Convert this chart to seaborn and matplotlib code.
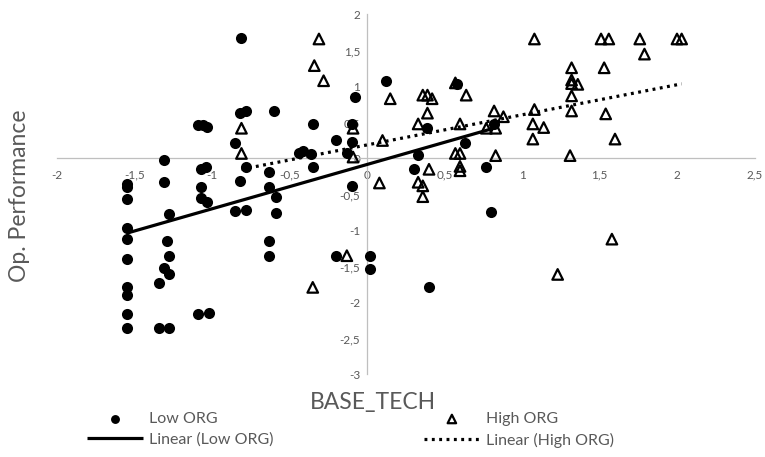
import numpy as np
import pandas as pd
import matplotlib
matplotlib.use("Agg")
import matplotlib.pyplot as plt
import seaborn as sns
from matplotlib.ticker import FuncFormatter

# ---------------- data ----------------
low_x = [-1.55, -1.55, -1.55, -1.55, -1.55, -1.55, -1.55, -1.55, -1.55, -1.55,
         -1.31, -1.31, -1.28, -1.29, -1.28, -1.31, -1.28, -1.34, -1.34, -1.28,
         -1.09, -1.06, -1.03, -1.07, -1.04, -1.07, -1.07, -1.03, -1.09, -1.02,
         -0.81, -0.82, -0.78, -0.85, -0.78, -0.82, -0.85, -0.78,
         -0.60, -0.63, -0.63, -0.59, -0.59, -0.63, -0.63,
         -0.44, -0.41, -0.36, -0.35, -0.35, -0.20, -0.20,
         -0.10, -0.10, -0.13, -0.08, -0.10, 0.02, 0.02, 0.12,
         0.30, 0.33, 0.39, 0.40, 0.58, 0.63, 0.77, 0.80, 0.82]
low_y = [-0.35, -0.40, -0.56, -0.96, -1.12, -1.39, -1.79, -1.90, -2.16, -2.36,
         -0.02, -0.33, -0.77, -1.14, -1.35, -1.52, -1.61, -1.73, -2.36, -2.36,
         0.46, 0.46, 0.44, -0.14, -0.12, -0.39, -0.55, -0.60, -2.16, -2.14,
         1.67, 0.63, 0.66, 0.21, -0.12, -0.31, -0.73, -0.72,
         0.66, -0.19, -0.39, -0.53, -0.76, -1.15, -1.35,
         0.07, 0.10, 0.06, 0.48, -0.12, 0.26, -1.35,
         0.48, 0.23, 0.07, 0.86, -0.38, -1.35, -1.53, 1.07,
         -0.15, 0.05, 0.43, -1.79, 1.03, 0.21, -0.12, -0.74, 0.48]

high_x = [-0.81, -0.81, -0.35, -0.34, -0.31, -0.28, -0.13, -0.09, -0.09,
          0.08, 0.10, 0.15, 0.33, 0.33, 0.36, 0.36, 0.36, 0.39, 0.42, 0.39, 0.40,
          0.57, 0.57, 0.60, 0.60, 0.60, 0.60, 0.64, 0.77, 0.83, 0.82, 0.88, 0.83,
          1.07, 1.07, 1.08, 1.08, 1.14, 1.23, 1.31, 1.32, 1.32, 1.32, 1.32, 1.32,
          1.36, 1.51, 1.53, 1.54, 1.56, 1.58, 1.60, 1.76, 1.79, 2.00, 2.03]
high_y = [0.42, 0.07, -1.79, 1.29, 1.66, 1.08, -1.35, 0.42, 0.02,
          -0.34, 0.25, 0.83, 0.48, -0.33, -0.38, -0.53, 0.88, 0.88, 0.83, 0.63, -0.15,
          1.05, 0.07, 0.07, 0.48, -0.11, -0.17, 0.88, 0.42, 0.42, 0.66, 0.58, 0.04,
          0.48, 0.27, 0.68, 1.66, 0.43, -1.61, 0.04, 0.66, 0.87, 1.04, 1.09, 1.26,
          1.03, 1.66, 1.26, 0.62, 1.66, -1.12, 0.27, 1.66, 1.45, 1.66, 1.66]

series_names = ["Low ORG", "High ORG"]
trend_names = ["Linear (Low ORG)", "Linear (High ORG)"]
x_ticks = [-2, -1.5, -1, -0.5, 0, 0.5, 1, 1.5, 2, 2.5]
y_ticks = [-3, -2.5, -2, -1.5, -1, -0.5, 0, 0.5, 1, 1.5, 2]
x_title = "BASE_TECH"
y_title = "Op. Performance"

# ---------------- style ----------------
sns.set_style("white")
plt.rcParams["font.family"] = ["Lato", "DejaVu Sans"]
GREY_TXT = "#595959"
GREY_AX = "#BFBFBF"

fig = plt.figure(figsize=(7.65, 4.57), dpi=100)
ax = fig.add_axes([57 / 765, 1 - 374.5 / 457, (754.5 - 57) / 765, (374.5 - 14.5) / 457])

low = pd.DataFrame({"x": low_x, "y": low_y})
high = pd.DataFrame({"x": high_x, "y": high_y})

sns.scatterplot(data=low, x="x", y="y", ax=ax, marker="o", s=64,
                color="black", edgecolor="black", linewidth=0,
                label=series_names[0], zorder=3)
sns.scatterplot(data=high, x="x", y="y", ax=ax, marker="^", s=58,
                color="black", facecolors="none", edgecolor="black",
                linewidth=1.6, label=series_names[1], zorder=3)

sns.regplot(data=low, x="x", y="y", ax=ax, scatter=False, ci=None,
            truncate=True, color="black", label=trend_names[0],
            line_kws=dict(lw=2.3, zorder=4, solid_capstyle="butt"))
sns.regplot(data=high, x="x", y="y", ax=ax, scatter=False, ci=None,
            truncate=True, color="black", label=trend_names[1],
            line_kws=dict(lw=2.3, zorder=4, linestyle=(0, (0.9, 1.4))))

ax.set_xlim(x_ticks[0], x_ticks[-1])
ax.set_ylim(y_ticks[0], y_ticks[-1])
ax.set_xticks(x_ticks)
ax.set_yticks(y_ticks)
fmt = FuncFormatter(lambda v, p: f"{v:g}".replace(".", ","))
ax.xaxis.set_major_formatter(fmt)
ax.yaxis.set_major_formatter(fmt)
ax.tick_params(axis="both", length=0, labelsize=8.5, labelcolor=GREY_TXT)
ax.tick_params(axis="x", pad=8)
ax.tick_params(axis="y", pad=5)
ax.set_xlabel("")
ax.set_ylabel("")

for s in ["top", "right"]:
    ax.spines[s].set_visible(False)
ax.spines["left"].set_position(("data", 0))
ax.spines["bottom"].set_position(("data", 0))
for s in ["left", "bottom"]:
    ax.spines[s].set_color(GREY_AX)
    ax.spines[s].set_linewidth(0.9)

fig.text(20 / 765, 1 - 196 / 457, y_title, rotation=90, ha="center", va="center",
         fontsize=16.5, color=GREY_TXT)
fig.text(373 / 765, 1 - 403 / 457, x_title, ha="center", va="center",
         fontsize=16.5, color=GREY_TXT)

handles, labels = ax.get_legend_handles_labels()
order = [series_names[0], trend_names[0], series_names[1], trend_names[1]]
hmap = dict(zip(labels, handles))
if ax.get_legend() is not None:
    ax.get_legend().remove()
fig.legend([hmap[k] for k in order], order, ncol=2, loc="upper left",
           bbox_to_anchor=(87 / 765, 1 - 412 / 457), frameon=False,
           fontsize=11.5, handlelength=3.5, handletextpad=0.4,
           columnspacing=9.4, labelspacing=0.4, borderpad=0,
           borderaxespad=0, labelcolor=GREY_TXT, markerscale=0.8)

fig.savefig("out.png", dpi=100, facecolor="white")
